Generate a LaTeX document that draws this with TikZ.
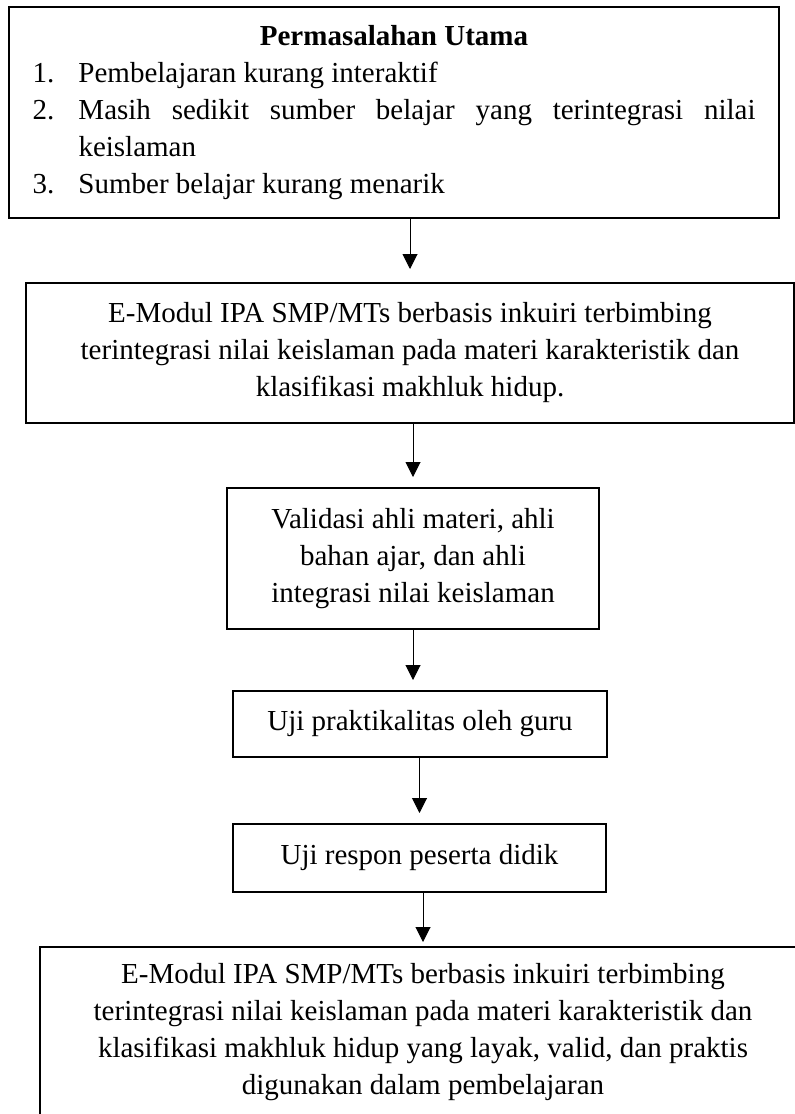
\documentclass[tikz,border=0pt]{standalone}
\usepackage{fontspec}
\setmainfont{Liberation Serif}
\usetikzlibrary{arrows.meta}

\begin{document}
\begin{tikzpicture}[x=1pt,y=1pt,
        kotak/.style={draw,line width=2pt,inner sep=0pt,align=center,
            font=\fontsize{29}{37}\selectfont},
        panah/.style={line width=1pt,-{Triangle[width=15pt,length=15pt]},shorten >=10pt}]
    \useasboundingbox (0,0) rectangle (795,-1114);
    %% permasalahan utama
    \node[kotak,align=justify,text width=723pt,inner xsep=23.5pt,minimum height=211pt] (masalah) at (394,-112.5) {%
        {\centering\textbf{Permasalahan Utama}\par}
        \noindent\makebox[46pt][l]{1.}Pembelajaran kurang interaktif\par
        \noindent\hangindent=46pt\makebox[46pt][l]{2.}Masih sedikit sumber belajar yang terintegrasi nilai\linebreak keislaman\par
        \noindent\makebox[46pt][l]{3.}Sumber belajar kurang menarik\par};
    %% e-modul
    \node[kotak,minimum width=768pt,minimum height=140pt] (modul) at (410,-353) {E-Modul IPA SMP/MTs berbasis inkuiri terbimbing\\
        terintegrasi nilai keislaman pada materi karakteristik dan\\
        klasifikasi makhluk hidup.};
    %% tahap uji
    \node[kotak,minimum width=372pt,minimum height=141pt] (validasi) at (413,-558.5) {Validasi ahli materi, ahli\\ bahan ajar, dan ahli\\ integrasi nilai keislaman};
    \node[kotak,minimum width=374pt,minimum height=66pt] (praktik) at (420,-724) {Uji praktikalitas oleh guru};
    \node[kotak,minimum width=373pt,minimum height=68pt] (respon) at (419.5,-858) {Uji respon peserta didik};
    %% produk akhir
    \node[kotak,minimum width=766pt,minimum height=170pt] (produk) at (423,-1032) {E-Modul IPA SMP/MTs berbasis inkuiri terbimbing\\
        terintegrasi nilai keislaman pada materi karakteristik dan\\
        klasifikasi makhluk hidup yang layak, valid, dan praktis\\
        digunakan dalam pembelajaran};
    %% panah
    \draw[panah,shorten >=13pt] (masalah.south -| modul.north) -- (modul.north);
    \draw[panah] (modul.south -| validasi.north) -- (validasi.north);
    \draw[panah] (validasi.south) -- (validasi.south |- praktik.north);
    \draw[panah] (praktik.south -| respon.north) -- (respon.north);
    \draw[panah,shorten >=4pt] (respon.south -| produk.north) -- (produk.north);
\end{tikzpicture}
\end{document}
